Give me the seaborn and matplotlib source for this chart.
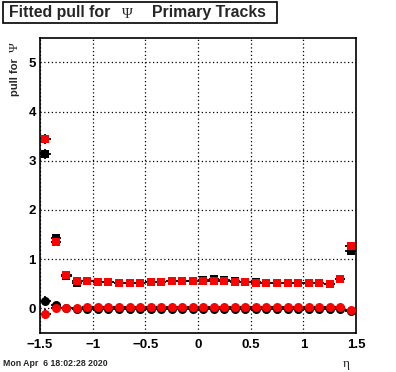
import numpy as np
import pandas as pd
import matplotlib
matplotlib.use("Agg")
import matplotlib.pyplot as plt
from matplotlib.patches import Rectangle
import seaborn as sns

# ---------------- data ----------------
eta = [-1.45, -1.35, -1.25, -1.15, -1.05, -0.95, -0.85, -0.75, -0.65, -0.55,
       -0.45, -0.35, -0.25, -0.15, -0.05, 0.05, 0.15, 0.25, 0.35, 0.45,
       0.55, 0.65, 0.75, 0.85, 0.95, 1.05, 1.15, 1.25, 1.35, 1.45]
sigma_black = [3.14, 1.43, 0.66, 0.52, 0.55, 0.54, 0.53, 0.52, 0.52, 0.52,
               0.54, 0.54, 0.56, 0.56, 0.56, 0.57, 0.59, 0.58, 0.56, 0.54,
               0.54, 0.52, 0.51, 0.51, 0.51, 0.52, 0.52, 0.50, 0.60, 1.17]
sigma_red = [3.45, 1.34, 0.67, 0.56, 0.55, 0.54, 0.53, 0.52, 0.52, 0.52,
             0.54, 0.54, 0.56, 0.56, 0.56, 0.56, 0.565, 0.565, 0.54, 0.54,
             0.52, 0.52, 0.51, 0.51, 0.51, 0.52, 0.52, 0.50, 0.60, 1.27]
mean_black = [0.16, 0.06, 0.00, -0.01, -0.01, -0.01, -0.01, -0.01, -0.01, -0.01,
              -0.01, -0.01, -0.01, -0.01, -0.01, -0.01, -0.01, -0.01, -0.01, -0.01,
              -0.01, -0.01, -0.01, -0.01, -0.01, -0.01, -0.01, -0.01, -0.01, -0.06]
mean_red = [-0.11, 0.01, 0.01, 0.01, 0.02, 0.02, 0.02, 0.02, 0.02, 0.02,
            0.02, 0.02, 0.02, 0.02, 0.02, 0.02, 0.02, 0.02, 0.02, 0.02,
            0.02, 0.02, 0.02, 0.02, 0.02, 0.02, 0.02, 0.02, 0.02, -0.03]
sigma_black_err = [0.10, 0.05, 0.02, 0.02, 0.02, 0.02, 0.02, 0.02, 0.02, 0.02,
                   0.02, 0.02, 0.02, 0.02, 0.02, 0.02, 0.02, 0.02, 0.02, 0.02,
                   0.02, 0.02, 0.02, 0.02, 0.02, 0.02, 0.02, 0.02, 0.02, 0.05]
sigma_red_err = [0.10, 0.05, 0.02, 0.02, 0.02, 0.02, 0.02, 0.02, 0.02, 0.02,
                 0.02, 0.02, 0.02, 0.02, 0.02, 0.02, 0.02, 0.02, 0.02, 0.02,
                 0.02, 0.02, 0.02, 0.02, 0.02, 0.02, 0.02, 0.02, 0.02, 0.05]
mean_black_err = [0.10, 0.05, 0.02, 0.02, 0.02, 0.02, 0.02, 0.02, 0.02, 0.02,
                  0.02, 0.02, 0.02, 0.02, 0.02, 0.02, 0.02, 0.02, 0.02, 0.02,
                  0.02, 0.02, 0.02, 0.02, 0.02, 0.02, 0.02, 0.02, 0.02, 0.05]
mean_red_err = [0.10, 0.05, 0.02, 0.02, 0.02, 0.02, 0.02, 0.02, 0.02, 0.02,
                0.02, 0.02, 0.02, 0.02, 0.02, 0.02, 0.02, 0.02, 0.02, 0.02,
                0.02, 0.02, 0.02, 0.02, 0.02, 0.02, 0.02, 0.02, 0.02, 0.05]
bin_half_width = 0.05

x_ticks = [-1.5, -1, -0.5, 0, 0.5, 1, 1.5]
x_ticklabels = ["\u22121.5", "\u22121", "\u22120.5", "0", "0.5", "1", "1.5"]
y_ticks = [0, 1, 2, 3, 4, 5]
y_ticklabels = ["0", "1", "2", "3", "4", "5"]

title_parts = ["Fitted pull for", "\u03a8", "Primary Tracks"]
ylabel_parts = ["pull for", "\u03a8"]
xlabel = "\u03b7"
date_text = "Mon Apr  6 18:02:28 2020"

# ---------------- style ----------------
sns.set_theme(style="white")
plt.rcParams["font.family"] = ["Liberation Sans", "DejaVu Sans"]

W, H = 396, 372
fig = plt.figure(figsize=(W / 100, H / 100), dpi=100)
fig.patch.set_facecolor("white")

def fx(px):
    return px / W

def fy(py):
    return 1 - py / H

ax = fig.add_axes([fx(40), fy(333), (356 - 40) / W, (333 - 37.7) / H])
ax.set_facecolor("white")

series = [
    (sigma_black, sigma_black_err, "black", "s", 32),
    (sigma_red, sigma_red_err, "#ff0000", "s", 32),
    (mean_black, mean_black_err, "black", "o", 42),
    (mean_red, mean_red_err, "#ff0000", "o", 42),
]
for vals, errs, col, mk, sz in series:
    ax.errorbar(eta, vals, xerr=bin_half_width, yerr=errs, fmt="none",
                ecolor="black", elinewidth=1.3, capsize=0, zorder=2)
for vals, errs, col, mk, sz in series:
    df = pd.DataFrame({"eta": eta, "val": vals})
    sns.scatterplot(data=df, x="eta", y="val", ax=ax, color=col, marker=mk,
                    s=sz, linewidth=0, zorder=3, legend=False)

ax.set_xlim(-1.5, 1.5)
ax.set_ylim(-0.5, 5.5)
ax.set_xlabel("")
ax.set_ylabel("")

ax.set_xticks(x_ticks)
ax.set_xticklabels(x_ticklabels)
ax.set_yticks(y_ticks)
ax.set_yticklabels(y_ticklabels)
ax.set_xticks(np.arange(-1.5, 1.51, 0.1), minor=True)
ax.set_yticks(np.arange(-0.4, 5.5, 0.2), minor=True)

ax.tick_params(axis="both", which="major", direction="in", length=6.5, width=1,
               color="black", labelsize=9.5, labelcolor="black", pad=3,
               top=False, right=False)
ax.tick_params(axis="both", which="minor", direction="in", length=3.2, width=1,
               color="black", top=False, right=False)
ax.tick_params(axis="x", which="major", pad=4)
for lab in ax.get_xticklabels() + ax.get_yticklabels():
    lab.set_fontweight("bold")

ax.grid(True, which="major", color="black", linestyle=(0, (1, 2)), linewidth=0.9)
ax.set_axisbelow(True)
for sp in ax.spines.values():
    sp.set_visible(True)
    sp.set_color("black")
    sp.set_linewidth(1.2)

# title box
fig.patches.append(Rectangle((fx(3), fy(23)), fx(277) - fx(3), fy(2) - fy(23),
                             transform=fig.transFigure, fill=False,
                             edgecolor="black", linewidth=1.2))
fig.text(fx(9), fy(17.5), title_parts[0], fontsize=11.4, fontweight="bold",
         ha="left", va="baseline")
fig.text(fx(122), fy(17.5), title_parts[1], fontsize=10.5,
         family=["Liberation Serif", "DejaVu Serif"],
         ha="left", va="baseline")
fig.text(fx(152), fy(17.5), title_parts[2], fontsize=11.4, fontweight="bold",
         ha="left", va="baseline")

# y label
fig.text(fx(14.5), fy(77.5), ylabel_parts[0], fontsize=8, fontweight="bold",
         rotation=90, ha="center", va="center")
fig.text(fx(14.5), fy(47), ylabel_parts[1], fontsize=9.5,
         family=["Liberation Serif", "DejaVu Serif"],
         rotation=90, ha="center", va="center")

# x label
fig.text(fx(346), fy(364), xlabel, fontsize=9.5,
         family=["Liberation Serif", "DejaVu Serif"], ha="center", va="center")

# date
fig.text(fx(3), fy(363), date_text, fontsize=6.3, fontweight="bold",
         ha="left", va="center")

fig.savefig("out.png", dpi=100, facecolor="white")
